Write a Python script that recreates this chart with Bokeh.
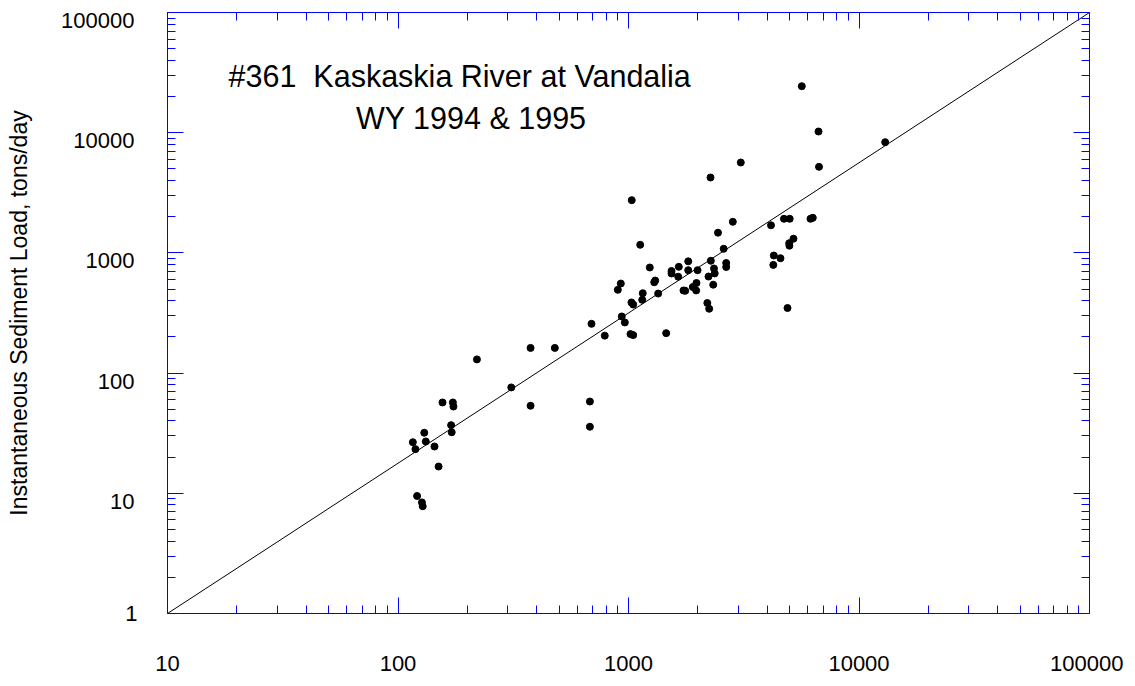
from bokeh.plotting import figure
from bokeh.models import (Range1d, LogAxis, FixedTicker, NumeralTickFormatter,
                          Label, CustomLabelingPolicy)
from bokeh.embed import file_html
from bokeh.resources import INLINE

# ---- data ----
discharge = [116, 119, 130, 132, 144, 150, 121, 127, 128, 156, 173, 174, 170, 171,
             220, 310, 376, 376, 479, 680, 680, 691, 789, 935, 964, 1020, 1048,
             1030, 1048, 1147, 899, 926, 1153, 1345, 1124, 1033, 1237, 1293, 1306,
             1457, 1537, 1537, 1653, 1643, 1816, 1816, 1993, 1732, 1762, 1901, 1972,
             1966, 2224, 2331, 2198, 2239, 2276, 2349, 2366, 2654, 2654, 2445, 2588,
             2269, 2835, 3070, 4152, 4270, 4249, 4564, 4726, 5004, 4979, 4990, 5197,
             4896, 5648, 6674, 6707, 6160, 6303, 12990]
load = [26.6, 23.3, 31.9, 27.0, 24.5, 16.7, 9.5, 8.4, 7.8, 57, 57, 52.7, 36.9, 32.2,
        130, 76, 162, 53.5, 162, 58, 35.8, 257, 205, 296, 264, 211, 207,
        387, 372, 407, 493, 556, 462, 459, 1168, 2745, 756, 570, 589,
        215, 707, 674, 766, 634, 851, 718, 718, 487, 484, 520, 562,
        487, 636, 544, 383, 343, 860, 742, 675, 824, 763, 1473, 1082,
        4240, 1815, 5650, 1697, 951, 795, 903, 1922, 1922, 1204, 1148, 1313,
        348, 24370, 10230, 5203, 1922, 1959, 8337]

fit_x = [10, 100000]
fit_y = [1, 100000]

x_ticks = [10, 100, 1000, 10000, 100000]
x_tick_labels = ["10", "100", "1000", "10000", "100000"]
y_ticks = [1, 10, 100, 1000, 10000, 100000]
y_tick_labels = ["1", "10", "100", "1000", "10000", "100000"]

title_line1 = "#361\u00a0 Kaskaskia River at Vandalia"
title_line2 = "WY 1994 & 1995"
y_title = "Instantaneous Sediment Load, tons/day"

FONT = "Liberation Sans"
BLUE = "#0000ff"

x_minor = [k * t for t in x_ticks[:-1] for k in range(2, 10)]
y_minor = [k * t for t in y_ticks[:-1] for k in range(2, 10)]

p = figure(width=1123, height=680, x_axis_type="log", y_axis_type="log",
           x_range=Range1d(10, 100000), y_range=Range1d(1, 100000),
           output_backend="svg", toolbar_location=None,
           min_border_left=167, min_border_right=34, min_border_top=12,
           min_border_bottom=67)
p.xgrid.visible = False
p.ygrid.visible = False
p.outline_line_color = None
p.background_fill_color = "white"
p.border_fill_color = "white"

# the reference prints the left tick labels a few pixels below each tick
shift_px = 8.0
shift = shift_px / 120.2
p.extra_y_ranges = {"ylab": Range1d(10 ** shift, 10 ** (5 + shift))}

def keep_only(first_only):
    cond = "i != 0" if first_only else "true"
    return CustomLabelingPolicy(code="for (const i of indices) { if (%s) indices.unset(i) }\nreturn indices" % cond)

def style_axis(ax, ticks, minor, show_labels):
    ax.ticker = FixedTicker(ticks=ticks, minor_ticks=minor)
    ax.formatter = NumeralTickFormatter(format="0")
    ax.axis_line_color = BLUE
    ax.axis_line_width = 1
    ax.major_tick_line_color = BLUE
    ax.minor_tick_line_color = BLUE
    ax.major_tick_in = 16
    ax.major_tick_out = 0
    ax.minor_tick_in = 8
    ax.minor_tick_out = 0
    if show_labels:
        ax.major_label_text_font = FONT
        ax.major_label_text_font_size = "22px"
        ax.major_label_text_color = "black"
    else:
        ax.major_label_policy = keep_only(False)
        ax.major_label_text_font_size = "1px"
        ax.major_label_standoff = 0

# bottom axis (labels shown)
xb = p.xaxis[0]
style_axis(xb, x_ticks, x_minor, True)
xb.major_label_standoff = 42
xb.major_label_overrides = {t: s for t, s in zip(x_ticks, x_tick_labels)}

# left frame axis: line, ticks and the lowest label ("1")
yl = p.yaxis[0]
style_axis(yl, y_ticks, y_minor, True)
yl.major_label_policy = keep_only(True)
yl.major_label_overrides = {t: (s if i == 0 else "") for i, (t, s) in enumerate(zip(y_ticks, y_tick_labels))}
yl.major_label_standoff = 30

# left label axis: remaining tick labels (shifted down) + axis title
ylab = LogAxis(y_range_name="ylab",
               ticker=FixedTicker(ticks=y_ticks[1:], minor_ticks=[]),
               formatter=NumeralTickFormatter(format="0"))
ylab.major_label_overrides = {t: s for t, s in zip(y_ticks, y_tick_labels)}
ylab.axis_line_color = None
ylab.major_tick_line_color = None
ylab.minor_tick_line_color = None
ylab.major_tick_in = 0
ylab.major_tick_out = 0
ylab.minor_tick_in = 0
ylab.minor_tick_out = 0
ylab.major_label_standoff = -12
ylab.major_label_text_font = FONT
ylab.major_label_text_font_size = "22px"
ylab.major_label_text_color = "black"
ylab.axis_label = y_title
ylab.axis_label_text_font = FONT
ylab.axis_label_text_font_size = "23px"
ylab.axis_label_text_font_style = "normal"
ylab.axis_label_text_color = "black"
ylab.axis_label_standoff = 26
p.add_layout(ylab, "left")

xt = LogAxis()
style_axis(xt, x_ticks, x_minor, False)
p.add_layout(xt, "above")
yr = LogAxis()
style_axis(yr, y_ticks, y_minor, False)
p.add_layout(yr, "right")

p.line(fit_x, fit_y, line_color="black", line_width=1)
p.scatter(discharge, load, size=7, marker="circle", fill_color="black", line_color="black")

p.add_layout(Label(x=18.4, y=29900, text=title_line1, text_align="left",
                   text_baseline="middle", text_font=FONT, text_font_size="30.5px",
                   text_color="black"))
p.add_layout(Label(x=208, y=13130, text=title_line2, text_align="center",
                   text_baseline="middle", text_font=FONT, text_font_size="30.5px",
                   text_color="black"))

open("out.html", "w").write(file_html(p, INLINE))
